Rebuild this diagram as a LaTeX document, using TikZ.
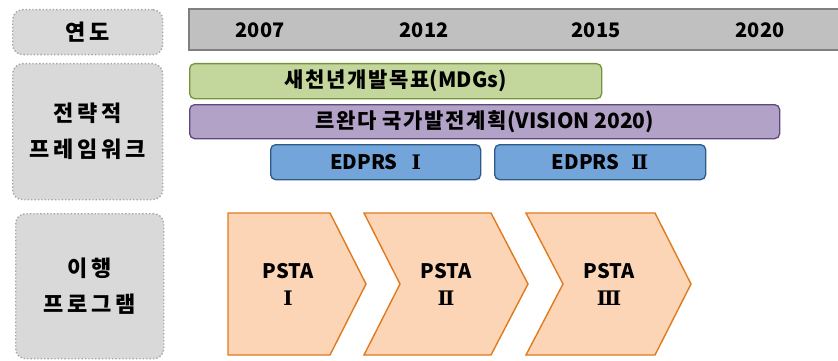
\documentclass[tikz,border=0pt]{standalone}
\usepackage{fontspec}
\setmainfont{Noto Sans CJK KR}
\newfontfamily\romfont{DejaVu Serif}
\newfontfamily\lblfont{Noto Sans CJK KR}[LetterSpace=18]
\newfontfamily\krbar{Noto Sans CJK KR}[LetterSpace=8]
\newcommand{\rmn}[1]{{\romfont\bfseries #1}}
\definecolor{lblfill}{HTML}{D9D9D9}
\definecolor{lbldraw}{HTML}{A6A6A6}
\definecolor{yrfill}{HTML}{C0C0C0}
\definecolor{yrdraw}{HTML}{7F7F7F}
\definecolor{mdgfill}{HTML}{C3D69B}
\definecolor{mdgdraw}{HTML}{77933C}
\definecolor{visfill}{HTML}{B3A2C7}
\definecolor{visdraw}{HTML}{5F497A}
\definecolor{edpfill}{HTML}{73A5DA}
\definecolor{edpdraw}{HTML}{2E5A87}
\definecolor{chvfill}{HTML}{FBD5B5}
\definecolor{chvdraw}{HTML}{E07A1F}
\tikzset{
  lblbox/.style={draw=lbldraw, fill=lblfill, dotted, line width=1.4pt, rounded corners=10pt, anchor=north west, inner sep=0pt, font=\lblfont\bfseries\fontsize{22}{36}\selectfont, align=center, text=black},
  yeartxt/.style={font=\bfseries\fontsize{20}{22}\selectfont, inner sep=0pt},
  barbox/.style={rounded corners=5pt, line width=1.3pt, anchor=north west, inner sep=0pt, font=\bfseries\fontsize{21}{24}\selectfont},
  chev/.style={fill=chvfill, draw=chvdraw, line width=1.4pt},
  chevtxt/.style={font=\bfseries\fontsize{20}{27}\selectfont, align=center, inner sep=0pt}
}
\begin{document}
\begin{tikzpicture}[x=1pt,y=-1pt]
\useasboundingbox (0,0) rectangle (838,361);
% left labels
\node[lblbox, minimum width=150pt, minimum height=45pt] (lbl1) at (12,9) {연도};
\node[lblbox, minimum width=150pt, minimum height=136pt] (lbl2) at (12,63) {전략적\\프레임워크};
\node[lblbox, minimum width=148pt, minimum height=145pt] (lbl3) at (15,213) {이행\\프로그램};
% year bar
\fill[yrfill] (189,9) rectangle (845,50);
\draw[yrdraw, line width=1.5pt] (845,9) -- (189,9) -- (189,50) -- (845,50);
\node[yeartxt] (y2007) at (260,30) {2007};
\node[yeartxt] (y2012) at (424,30) {2012};
\node[yeartxt] (y2015) at (596,30) {2015};
\node[yeartxt] (y2020) at (760,30) {2020};
% bars
\node[barbox, fill=mdgfill, draw=mdgdraw, minimum width=412pt, minimum height=35pt] (mdg) at (189,63) {{\krbar 새천년개발목표}(MDGs)};
\node[barbox, fill=visfill, draw=visdraw, minimum width=590pt, minimum height=34pt] (vis) at (189,104) {{\krbar 르완다 국가발전계획}(VISION 2020)};
\node[barbox, fill=edpfill, draw=edpdraw, minimum width=210pt, minimum height=35pt, font=\bfseries\fontsize{20}{24}\selectfont] (edp1) at (270,144) {EDPRS\hspace{14pt}\rmn{Ⅰ}};
\node[barbox, fill=edpfill, draw=edpdraw, minimum width=211pt, minimum height=35pt, font=\bfseries\fontsize{20}{24}\selectfont] (edp2) at (494,144) {EDPRS\hspace{12pt}\rmn{Ⅱ}};
% chevrons
\draw[chev] (228,213) -- (330,213) -- (366,284) -- (330,355) -- (228,355) -- cycle;
\draw[chev] (364,213) -- (491,213) -- (528,284) -- (491,355) -- (364,355) -- (400,284) -- cycle;
\draw[chev] (526,213) -- (655,213) -- (691,284) -- (655,355) -- (526,355) -- (563,284) -- cycle;
\node[chevtxt] (p1) at (288,284) {PSTA\\\rmn{Ⅰ}};
\node[chevtxt] (p2) at (446,284) {PSTA\\\rmn{Ⅱ}};
\node[chevtxt] (p3) at (609,284) {PSTA\\\rmn{Ⅲ}};
\end{tikzpicture}
\end{document}
